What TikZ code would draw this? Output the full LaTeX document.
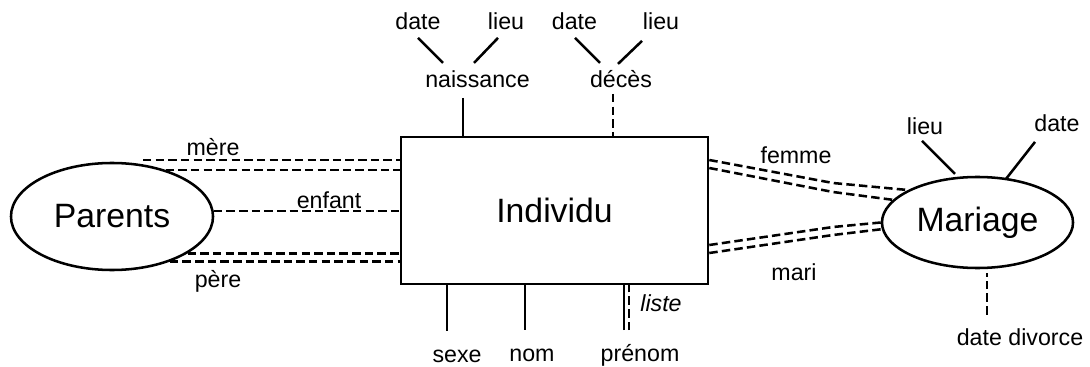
\documentclass[tikz,border=0pt]{standalone}
\usepackage{fontspec}
\setmainfont{Liberation Sans}
\usetikzlibrary{shapes.geometric}
\tikzset{
    trait/.style={line width=1.8pt},
    pointille/.style={line width=1.8pt, dash pattern=on 6pt off 3pt},
    attribut/.style={anchor=base, inner sep=1pt, font=\fontsize{16.5}{19}\selectfont},
    entite/.style={draw, line width=1.8pt, font=\fontsize{24}{28}\selectfont},
}

\begin{document}
\begin{tikzpicture}[x=0.025cm, y=-0.025cm]
\useasboundingbox (0,0) rectangle (1090,367);

% entites
\node[entite, minimum width=7.675cm, minimum height=3.675cm] (individu) at (554.5,210.5) {Individu};
\node[entite, ellipse, inner sep=0pt, minimum width=5.05cm, minimum height=2.675cm] (parents) at (112,216.5) {Parents};
\node[entite, ellipse, inner sep=0pt, minimum width=4.775cm, minimum height=2.275cm] (mariage) at (977.5,222.5) {Mariage};

% liens avec Parents
\coordinate (mere) at (143,160);
\draw[pointille] (mere) -- (mere -| individu.west);
\draw[pointille] (parents.41) -- (parents.41 -| individu.west);
\draw[pointille] (parents.3) -- (parents.3 -| individu.west);
\draw[pointille] (parents.-26) -- (parents.-26 -| individu.west);
\draw[pointille] (parents.-38) -- (parents.-38 -| individu.west);
\node[attribut] (lmere) at (213,155) {mère};
\node[attribut] (lenfant) at (329,208) {enfant};
\node[attribut] (lpere) at (218,287) {père};

% liens avec Mariage
\coordinate (femA) at (833,183);
\coordinate (femB) at (833,192);
\coordinate (marA) at (833,227);
\coordinate (marB) at (833,235);
\draw[pointille] (individu.east |- 0,160) -- (femA) -- (mariage.155);
\draw[pointille] (individu.east |- 0,168) -- (femB) -- (mariage.165);
\draw[pointille] (individu.east |- 0,245) -- (marA) -- (mariage.west);
\draw[pointille] (individu.east |- 0,253) -- (marB) -- (mariage.184);
\node[attribut] (lfemme) at (796,163) {femme};
\node[attribut] (lmari) at (794,280) {mari};

% naissance et deces
\node[attribut] (naissance) at (477.5,88) {naissance};
\node[attribut] (deces) at (621,88) {décès};
\node[attribut] (nDate) at (418,30) {date};
\node[attribut] (nLieu) at (506,30) {lieu};
\node[attribut] (dDate) at (574.5,30) {date};
\node[attribut] (dLieu) at (661,30) {lieu};
\draw[trait] (nDate.south) ++(0,6) -- ++(25,25);
\draw[trait] (nLieu.south) ++(-8,6) -- ++(-24,25);
\draw[trait] (dDate.south) ++(0.5,6) -- ++(25,25);
\draw[trait] (dLieu.south) ++(-19,9) -- ++(-24,23);
\draw[trait] (naissance.south) ++(-14.5,8) coordinate (n0) -- (n0 |- individu.north);
\draw[pointille] (deces.south) ++(-8,4) coordinate (d0) -- (d0 |- individu.north);

% attributs du bas
\node[attribut] (sexe) at (457,362) {sexe};
\node[attribut] (nom) at (532,361) {nom};
\node[attribut] (prenom) at (640,361) {prénom};
\node[attribut, font=\fontsize{16.5}{19}\selectfont\itshape] (liste) at (661,311) {liste};
\draw[trait] (sexe.north) ++(-10,-17) coordinate (s0) -- (s0 |- individu.south);
\draw[trait] (nom.north) ++(-7,-17) coordinate (o0) -- (o0 |- individu.south);
\draw[trait] (prenom.north) ++(-16,-12) coordinate (p0) -- (p0 |- individu.south);
\draw[pointille] (prenom.north) ++(-11,-12) coordinate (p1) -- (p1 |- individu.south);

% attributs de Mariage
\node[attribut] (mLieu) at (925,135) {lieu};
\node[attribut] (mDate) at (1057,132) {date};
\node[attribut] (divorce) at (1020,345) {date divorce};
\draw[trait] (mLieu.south) ++(-3,4) -- ++(33,33);
\draw[trait] (mDate.south) ++(-22,8) -- ++(-29,37);
\draw[pointille] (divorce.north) ++(-33,-12) -- ++(0,-42);
\end{tikzpicture}
\end{document}
